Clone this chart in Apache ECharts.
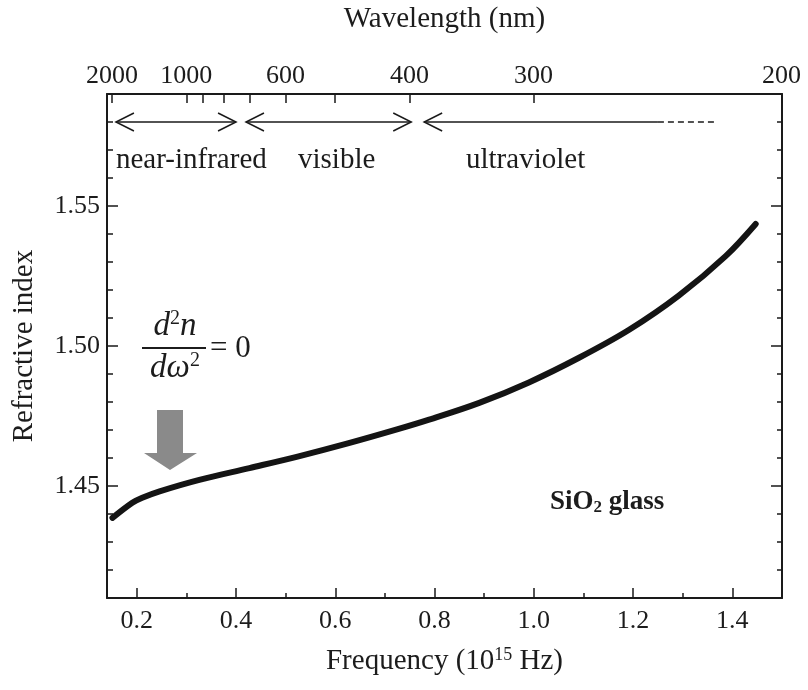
<!DOCTYPE html>
<html>
<head>
<meta charset="utf-8">
<script src="https://cdn.jsdelivr.net/npm/echarts@6/dist/echarts.min.js"></script>
<style>
html, body { margin: 0; background: #fff; }
#main { width: 808px; height: 690px; }
</style>
</head>
<body>
<div id="main"></div>
<script>
const chartDom = document.getElementById('main')
const myChart = echarts.init(chartDom)

const SERIF = '"Liberation Serif", "Times New Roman", serif'
const INK = '#1a1a1a'
const TXT = '#1c1c1c'
const C = 299.79 // nm * 10^15 Hz

// top axis: wavelength (nm)
const wlTicks = [2000, 1000, 900, 800, 700, 600, 500, 400, 300, 200]
const wlLabels = [2000, 1000, 600, 400, 300, 200]

// bottom axis: frequency (10^15 Hz)
const freqMajor = [0.2, 0.4, 0.6, 0.8, 1.0, 1.2, 1.4]
const freqMinor = [0.3, 0.5, 0.7, 0.9, 1.1, 1.3]

// refractive index ticks
const nMajor = [1.45, 1.50, 1.55]
const nMinor = [1.42, 1.43, 1.44, 1.46, 1.47, 1.48, 1.49, 1.51, 1.52, 1.53, 1.54, 1.56, 1.57, 1.58]

// SiO2 curve
const freq = [0.151, 0.191, 0.211, 0.246, 0.326, 0.427, 0.526, 0.627, 0.726, 0.789, 0.890, 0.990, 1.091, 1.192, 1.292, 1.387, 1.447]
const nIndex = [1.4386, 1.4440, 1.4458, 1.4481, 1.4522, 1.4564, 1.4606, 1.4653, 1.4703, 1.4737, 1.4797, 1.4870, 1.4958, 1.5058, 1.5180, 1.5322, 1.5436]

// spectral bands (frequency ranges of the arrows)
const bandFrom = [0.158, 0.42, 0.779]
const bandTo = [0.40, 0.753, 1.25]
const bandDashTo = [0, 0, 1.37]
const bandHeadRight = [1, 1, 0]
const ARROW_N = 1.58

const tickAxis = (extra) => Object.assign({
    type: 'value',
    min: 0.14,
    max: 1.5,
    splitLine: { show: false },
    axisLine: { show: false },
    axisLabel: { show: false },
}, extra)

const nAxis = (extra) => Object.assign({
    type: 'value',
    min: 1.41,
    max: 1.59,
    splitLine: { show: false },
    axisLine: { show: false },
    axisLabel: { show: false },
}, extra)

function renderBand(params, api) {
    const y = api.coord([0.5, ARROW_N])[1]
    const x0 = api.coord([api.value(0), ARROW_N])[0]
    const x1 = api.coord([api.value(1), ARROW_N])[0]
    const st = { stroke: INK, lineWidth: 1.5, fill: null }
    const w = 18, h = 9
    const children = [
        { type: 'line', shape: { x1: x0, y1: y, x2: x1, y2: y }, style: st },
        { type: 'polyline', shape: { points: [[x0 + w, y - h], [x0, y], [x0 + w, y + h]] }, style: st },
    ]
    if (api.value(2) > 0) {
        children.push({ type: 'polyline', shape: { points: [[x1 - w, y - h], [x1, y], [x1 - w, y + h]] }, style: st })
    }
    if (api.value(3) > api.value(1)) {
        const x2 = api.coord([api.value(3), ARROW_N])[0]
        children.push({ type: 'line', shape: { x1: x1, y1: y, x2: x2, y2: y }, style: Object.assign({}, st, { lineDash: [6, 4] }) })
    }
    return { type: 'group', children }
}

const option = {
    animation: false,
    backgroundColor: '#fff',
    textStyle: { fontFamily: SERIF },
    grid: { left: 107, right: 26, top: 92, bottom: 92, containLabel: false },
    xAxis: [
        {
            type: 'value',
            position: 'bottom',
            min: 0.14,
            max: 1.5,
            splitLine: { show: false },
            axisLine: { lineStyle: { color: INK, width: 2 } },
            axisTick: { inside: true, length: 10, customValues: freqMajor, lineStyle: { color: INK, width: 1.5 } },
            axisLabel: {
                customValues: freqMajor, margin: 10, color: TXT, fontSize: 26, fontFamily: SERIF,
                formatter: v => v.toFixed(1)
            },
            name: 'Frequency (10{sup|15} Hz)',
            nameLocation: 'middle',
            nameGap: 48,
            nameTextStyle: {
                color: TXT, fontSize: 29, fontFamily: SERIF,
                rich: { sup: { fontSize: 18, fontFamily: SERIF, color: TXT, padding: [0, 0, 13, 0] } }
            },
        },
        tickAxis({
            position: 'bottom',
            axisTick: { inside: true, length: 5, customValues: freqMinor, lineStyle: { color: INK, width: 1.5 } },
        }),
        {
            type: 'value',
            position: 'top',
            min: 0.14,
            max: 1.5,
            splitLine: { show: false },
            axisLine: { lineStyle: { color: INK, width: 2 } },
            axisTick: { inside: true, length: 9, customValues: wlTicks.map(w => C / w), lineStyle: { color: INK, width: 1.5 } },
            axisLabel: {
                customValues: wlLabels.map(w => C / w), margin: 5, color: TXT, fontSize: 26, fontFamily: SERIF,
                formatter: v => String(Math.round(C / v))
            },
            name: 'Wavelength (nm)',
            nameLocation: 'middle',
            nameGap: 60,
            nameTextStyle: { color: TXT, fontSize: 29, fontFamily: SERIF },
        },
    ],
    yAxis: [
        {
            type: 'value',
            position: 'left',
            min: 1.41,
            max: 1.59,
            splitLine: { show: false },
            axisLine: { lineStyle: { color: INK, width: 2 } },
            axisTick: { inside: true, length: 6, customValues: nMinor, lineStyle: { color: INK, width: 1.5 } },
            axisLabel: {
                customValues: nMajor, margin: 7, color: TXT, fontSize: 26, fontFamily: SERIF,
                formatter: v => v.toFixed(2)
            },
            name: 'Refractive index',
            nameLocation: 'middle',
            nameGap: 68,
            nameTextStyle: { color: TXT, fontSize: 29, fontFamily: SERIF },
        },
        nAxis({
            position: 'left',
            axisTick: { inside: true, length: 11, customValues: nMajor, lineStyle: { color: INK, width: 1.5 } },
        }),
        nAxis({
            position: 'right',
            axisLine: { show: true, lineStyle: { color: INK, width: 2 } },
            axisTick: { inside: true, length: 5, customValues: nMinor, lineStyle: { color: INK, width: 1.5 } },
        }),
        nAxis({
            position: 'right',
            axisTick: { inside: true, length: 11, customValues: nMajor, lineStyle: { color: INK, width: 1.5 } },
        }),
    ],
    series: [
        {
            name: 'SiO2',
            type: 'line',
            xAxisIndex: 0,
            yAxisIndex: 0,
            data: freq.map((f, i) => [f, nIndex[i]]),
            smooth: 0.35,
            showSymbol: false,
            lineStyle: { color: '#141414', width: 6, cap: 'round' },
        },
        {
            name: 'bands',
            type: 'custom',
            xAxisIndex: 0,
            yAxisIndex: 0,
            clip: false,
            renderItem: renderBand,
            encode: { x: [0, 1] },
            data: bandFrom.map((f, i) => [f, bandTo[i], bandHeadRight[i], bandDashTo[i]]),
        },
    ],
    graphic: [
        { type: 'text', x: 116, y: 160, style: { text: 'near-infrared', fontSize: 29, fontFamily: SERIF, fill: TXT, verticalAlign: 'middle' } },
        { type: 'text', x: 298, y: 160, style: { text: 'visible', fontSize: 29, fontFamily: SERIF, fill: TXT, verticalAlign: 'middle' } },
        { type: 'text', x: 466, y: 160, style: { text: 'ultraviolet', fontSize: 29, fontFamily: SERIF, fill: TXT, verticalAlign: 'middle' } },
        {
            type: 'text', x: 175, y: 344,
            style: {
                text: '{i|d}{s|2}{i|n}', align: 'center', verticalAlign: 'bottom', fill: TXT,
                rich: {
                    i: { fontSize: 33, fontFamily: SERIF, fontStyle: 'italic', fill: TXT },
                    s: { fontSize: 20, fontFamily: SERIF, fill: TXT, padding: [0, 0, 15, 0] }
                }
            }
        },
        { type: 'line', shape: { x1: 142, y1: 348, x2: 206, y2: 348 }, style: { stroke: TXT, lineWidth: 1.8 } },
        {
            type: 'text', x: 175, y: 351,
            style: {
                text: '{i|d\u03c9}{s|2}', align: 'center', verticalAlign: 'top', fill: TXT,
                rich: {
                    i: { fontSize: 33, fontFamily: SERIF, fontStyle: 'italic', fill: TXT },
                    s: { fontSize: 20, fontFamily: SERIF, fill: TXT, padding: [0, 0, 15, 0] }
                }
            }
        },
        { type: 'text', x: 210, y: 349, style: { text: '= 0', fontSize: 31, fontFamily: SERIF, fill: TXT, verticalAlign: 'middle' } },
        {
            type: 'polygon',
            shape: { points: [[157, 410], [183, 410], [183, 453], [197, 453], [170, 470], [144, 453], [157, 453]] },
            style: { fill: '#8a8a8a' }
        },
        {
            type: 'text', x: 550, y: 502,
            style: {
                text: '{b|SiO}{sub|2}{b| glass}', verticalAlign: 'middle', fill: TXT,
                rich: {
                    b: { fontSize: 27, fontFamily: SERIF, fontWeight: 'bold', fill: TXT },
                    sub: { fontSize: 17, fontFamily: SERIF, fontWeight: 'bold', fill: TXT, padding: [12, 0, 0, 0] }
                }
            }
        },
    ],
}

myChart.setOption(option)
</script>
</body>
</html>
